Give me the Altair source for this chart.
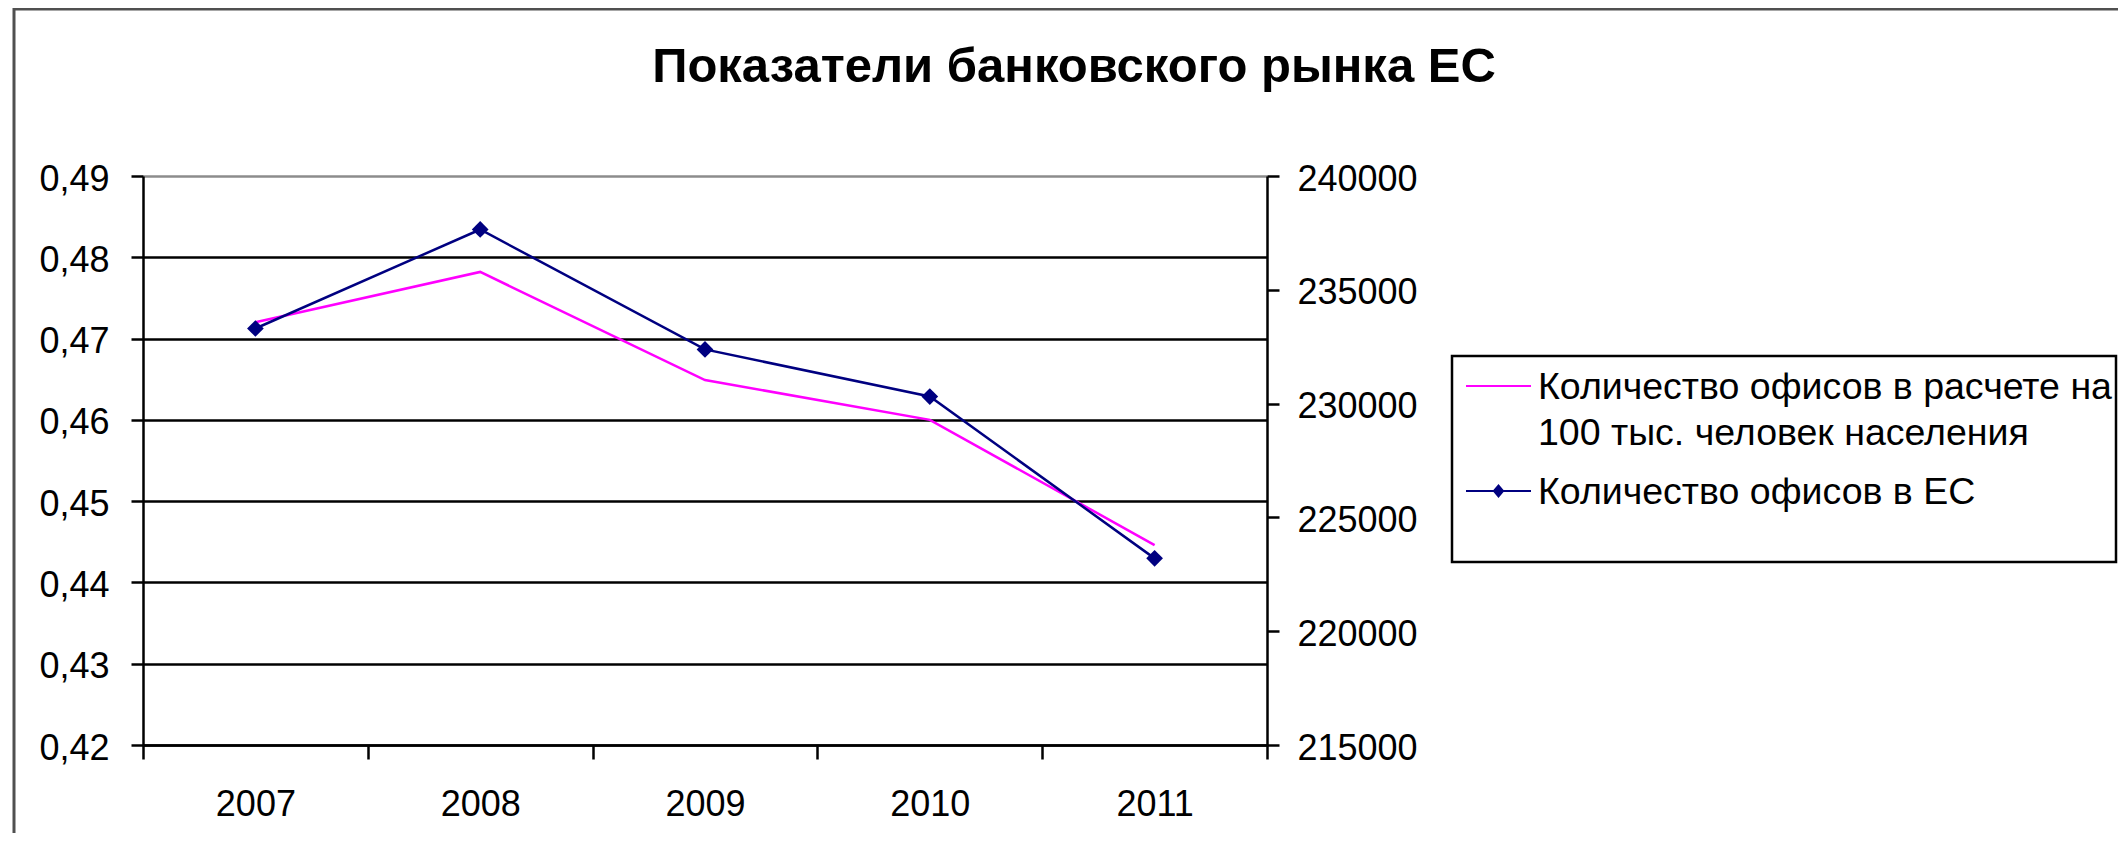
import altair as alt
import pandas as pd

# ---- data ----
years = ["2007", "2008", "2009", "2010", "2011"]
offices_per_100k = [0.4720, 0.4782, 0.4649, 0.4600, 0.4446]   # left axis
offices_eu = [233300, 237650, 232380, 230310, 223200]          # right axis
left_ticks = [0.42, 0.43, 0.44, 0.45, 0.46, 0.47, 0.48, 0.49]
right_ticks = [215000, 220000, 225000, 230000, 235000, 240000]
series_names = [
    "Количество офисов в расчете на 100 тыс. человек населения",
    "Количество офисов в ЕС",
]
label_lines = ["Количество офисов в расчете на", "100 тыс. человек населения"]
series_colors = ["#FF00FF", "#000080"]
legend_shapes = ["M-1,0L1,0", "M-1,0L1,0M-0.14,0L0,-0.17L0.14,0L0,0.17Z"]
title_text = "Показатели банковского рынка ЕС"

FONT = "Liberation Sans"
LABEL_DY = 13

pink_df = pd.DataFrame({"year": years, "value": offices_per_100k, "series": series_names[0]})
blue_df = pd.DataFrame({"year": years, "value": offices_eu, "series": series_names[1]})

x_enc = alt.X(
    "year:O",
    sort=years,
    scale=alt.Scale(type="band", paddingInner=0, paddingOuter=0),
    axis=alt.Axis(
        title=None, labelAngle=0, tickBand="extent", tickSize=14, tickWidth=2.5,
        tickColor="black", domainColor="black", domainWidth=2.5, labelPadding=28 - LABEL_DY,
        labelFont=FONT, labelFontSize=36, labelColor="black", grid=False,
    ),
)

color_scale = alt.Scale(domain=series_names, range=series_colors)

legend = alt.Legend(
    title=None,
    orient="none",
    legendX=1322,
    legendY=200,
    padding=0,
    labelFont=FONT,
    labelFontSize=37.5,
    labelColor="black",
    labelLimit=1000,
    labelOffset=6,
    labelBaseline="alphabetic",
    symbolSize=4225,
    symbolStrokeWidth=2,
    symbolFillColor="#000080",
    symbolOpacity=1,
    clipHeight=20,
    rowPadding=21,
    labelExpr="datum.label == '%s' ? ['%s', '%s'] : datum.label"
    % (series_names[0], label_lines[0], label_lines[1]),
)

color_enc = alt.Color("series:N", scale=color_scale, legend=legend)

pink = (
    alt.Chart(pink_df)
    .mark_line(strokeWidth=2.5)
    .encode(
        x=x_enc,
        y=alt.Y(
            "value:Q",
            scale=alt.Scale(domain=[0.42, 0.49], nice=False, zero=False),
            axis=alt.Axis(
                orient="left", values=left_ticks, title=None,
                labelExpr="replace(format(datum.value, '.2f'), '.', ',')",
                labelFont=FONT, labelFontSize=36, labelColor="black", labelPadding=22,
                labelOffset=3 - LABEL_DY,
                tickSize=12, tickColor="black", tickWidth=2.5,
                domainColor="black", domainWidth=2.5,
                grid=True,
                gridColor={"condition": {"test": "datum.value >= 0.4895", "value": "#8c8c8c"}, "value": "black"},
                gridWidth=2.5,
            ),
        ),
        color=color_enc,
    )
)

blue = (
    alt.Chart(blue_df)
    .mark_line(
        strokeWidth=2.5,
        point=alt.OverlayMarkDef(shape="diamond", size=280, filled=True, fill="#000080", opacity=1),
    )
    .encode(
        x=x_enc,
        y=alt.Y(
            "value:Q",
            scale=alt.Scale(domain=[215000, 240000], nice=False, zero=False),
            axis=alt.Axis(
                orient="right", values=right_ticks, title=None, format="d",
                labelFont=FONT, labelFontSize=36, labelColor="black", labelPadding=18,
                labelOffset=3 - LABEL_DY,
                tickSize=12, tickColor="black", tickWidth=2.5,
                domainColor="black", domainWidth=2.5, grid=False,
            ),
        ),
        color=color_enc,
    )
)

# legend-only layer (no rows): gives the shared legend its line / line+diamond symbols
legend_layer = (
    alt.Chart(alt.Data(values=[]))
    .mark_point(filled=False, fill="#000080", strokeWidth=2, opacity=1)
    .encode(
        color=color_enc,
        shape=alt.Shape("series:N", scale=alt.Scale(domain=series_names, range=legend_shapes), legend=legend),
    )
)

one = alt.Data(values=[{"k": 1}])
border_top = alt.Chart(one).mark_rule(color="#505050", strokeWidth=3).encode(
    x=alt.value(-129), x2=alt.value(2000), y=alt.value(-167)
)
border_left = alt.Chart(one).mark_rule(color="#505050", strokeWidth=3).encode(
    x=alt.value(-129), y=alt.value(-168), y2=alt.value(720)
)
legend_box = alt.Chart(one).mark_rect(fill="white", stroke="black", strokeWidth=2.5).encode(
    x=alt.value(1309), x2=alt.value(1973), y=alt.value(180), y2=alt.value(386)
)

chart = (
    alt.layer(legend_layer, border_top, border_left, legend_box, pink, blue)
    .resolve_scale(y="independent")
    .properties(
        width=1124,
        height=569,
        autosize=alt.AutoSizeParams(type="none"),
        padding={"left": 135, "top": 168, "right": 851, "bottom": 88},
        title=alt.TitleParams(
            text=title_text, font=FONT, fontSize=49, fontWeight="bold", color="black",
            anchor="middle", frame="group", dx=369, offset=0, dy=124, baseline="alphabetic",
        ),
        background="white",
    )
    .configure_view(fill="#C0C0C0", stroke="#8c8c8c", strokeWidth=2)
    .configure(style={"guide-label": {"dy": LABEL_DY, "lineHeight": 46}})
)

chart.save("out.html", embed_options={"renderer": "svg", "actions": False})
